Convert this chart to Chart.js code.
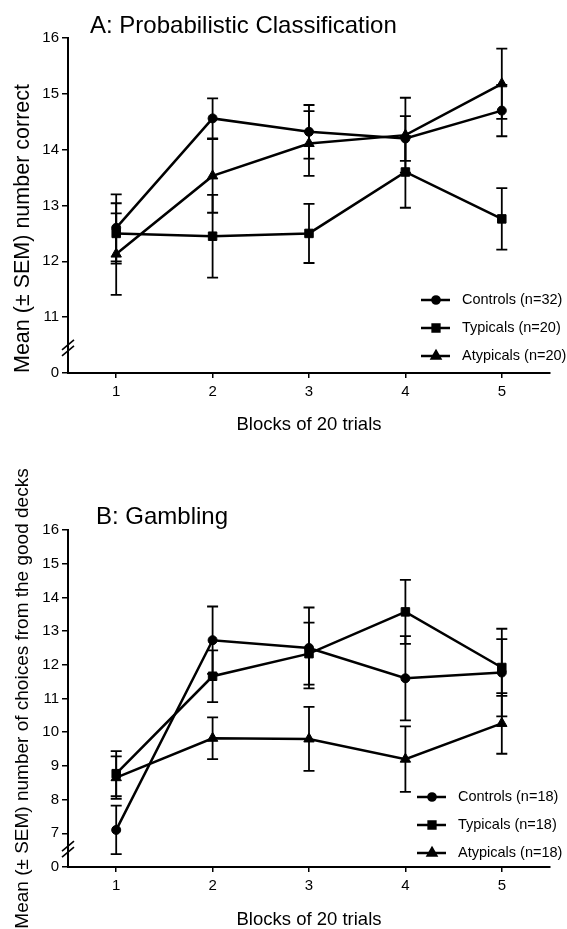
<!DOCTYPE html>
<html>
<head>
<meta charset="utf-8">
<script src="https://cdn.jsdelivr.net/npm/chart.js@4.4.1/dist/chart.umd.min.js"></script>
<style>
    html, body { margin: 0; padding: 0; background: #fff; overflow: hidden; }
    #wrap { position: relative; width: 567px; height: 929px; }
    canvas { position: absolute; left: 0; }
    #chart-a { top: 0; }
    #chart-b { top: 450px; }
</style>
</head>
<body>
<div id="wrap">
    <canvas id="chart-a" width="567" height="450"></canvas>
    <canvas id="chart-b" width="567" height="479"></canvas>
</div>
<script>
// ---------- data ----------
const blocks = [1, 2, 3, 4, 5];
const seriesNames = ["Controls", "Typicals", "Atypicals"];

// A: Probabilistic Classification
const aControls = [12.6, 14.56, 14.32, 14.2, 14.7];
const aControlsSem = [0.6, 0.36, 0.48, 0.4, 0.46];
const aTypicals = [12.5, 12.45, 12.5, 13.6, 12.76];
const aTypicalsSem = [0.54, 0.74, 0.53, 0.64, 0.55];
const aAtypicals = [12.13, 13.53, 14.11, 14.26, 15.18];
const aAtypicalsSem = [0.73, 0.66, 0.58, 0.67, 0.63];
const aN = [32, 20, 20];
const aYTicks = [11, 12, 13, 14, 15, 16];
const aYBase = 10; // shown as "0" below the axis break

// B: Gambling
const bControls = [7.1, 12.73, 12.5, 11.6, 11.77];
const bControlsSem = [0.72, 1.0, 1.2, 1.25, 1.3];
const bTypicals = [8.77, 11.66, 12.33, 13.57, 11.92];
const bTypicalsSem = [0.67, 0.77, 0.92, 0.95, 0.84];
const bAtypicals = [8.65, 9.82, 9.8, 9.2, 10.26];
const bAtypicalsSem = [0.63, 0.62, 0.95, 0.97, 0.9];
const bN = [18, 18, 18];
const bYTicks = [7, 8, 9, 10, 11, 12, 13, 14, 15, 16];
const bYBase = 6;

const FONT = "'Liberation Sans', Arial, Helvetica, sans-serif";
const BLACK = "#000";

const markers = [
    { style: "circle", radius: 4.5 },
    { style: "rect", radius: 6 },
    { style: "triangle", radius: 6 },
];

function makeDatasets(values, sems, ns) {
    return values.map((vals, i) => ({
        label: `${seriesNames[i]} (n=${ns[i]})`,
        data: blocks.map((b, j) => ({ x: b, y: vals[j] })),
        sem: sems[i],
        borderColor: BLACK,
        backgroundColor: BLACK,
        borderWidth: 2.5,
        pointStyle: markers[i].style,
        pointRadius: markers[i].radius,
        pointBorderWidth: 1,
        tension: 0,
        clip: false,
    }));
}

// error bars (mean +/- SEM) with caps
const errorBars = {
    id: "errorBars",
    beforeDatasetsDraw(chart) {
        const { ctx, scales: { x, y } } = chart;
        ctx.save();
        ctx.strokeStyle = BLACK;
        ctx.lineWidth = 1.8;
        chart.data.datasets.forEach(ds => {
            ds.data.forEach((p, j) => {
                const s = ds.sem[j];
                const px = x.getPixelForValue(p.x);
                const top = y.getPixelForValue(p.y + s);
                const bot = y.getPixelForValue(p.y - s);
                ctx.beginPath();
                ctx.moveTo(px, top);
                ctx.lineTo(px, bot);
                ctx.moveTo(px - 5.5, top);
                ctx.lineTo(px + 5.5, top);
                ctx.moveTo(px - 5.5, bot);
                ctx.lineTo(px + 5.5, bot);
                ctx.stroke();
            });
        });
        ctx.restore();
    }
};

// the // marks on the y axis between "0" and the first real tick
const axisBreak = {
    id: "axisBreak",
    afterDraw(chart, args, opts) {
        const { ctx, scales: { y }, chartArea } = chart;
        const yb = y.getPixelForValue(opts.at);
        const xa = chartArea.left;
        ctx.save();
        ctx.strokeStyle = BLACK;
        ctx.lineWidth = 1.6;
        [-3, 3].forEach(d => {
            ctx.beginPath();
            ctx.moveTo(xa - 6, yb + d + 5);
            ctx.lineTo(xa + 6, yb + d - 5);
            ctx.stroke();
        });
        ctx.restore();
    }
};

const panelTitle = {
    id: "panelTitle",
    afterDraw(chart, args, opts) {
        const { ctx } = chart;
        ctx.save();
        ctx.font = `24px ${FONT}`;
        ctx.fillStyle = BLACK;
        ctx.textBaseline = "middle";
        ctx.textAlign = "left";
        ctx.fillText(opts.text, opts.x, opts.y);
        ctx.restore();
    }
};

const cornerLegend = {
    id: "cornerLegend",
    afterDraw(chart, args, opts) {
        const { ctx } = chart;
        ctx.save();
        chart.data.datasets.forEach((ds, i) => {
            const yy = opts.y + i * opts.step;
            ctx.strokeStyle = BLACK;
            ctx.lineWidth = 2.5;
            ctx.beginPath();
            ctx.moveTo(opts.x, yy);
            ctx.lineTo(opts.x + 29, yy);
            ctx.stroke();
            ctx.fillStyle = BLACK;
            Chart.helpers.drawPoint(ctx, {
                pointStyle: ds.pointStyle,
                radius: ds.pointRadius * 0.8,
                rotation: 0,
                borderWidth: 1
            }, opts.x + 15, yy);
            ctx.fill();
            ctx.font = `14.5px ${FONT}`;
            ctx.textBaseline = "middle";
            ctx.textAlign = "left";
            ctx.fillText(ds.label, opts.x + 41, yy);
        });
        ctx.restore();
    }
};

function makeChart(canvasId, datasets, cfg) {
    const ctx = document.getElementById(canvasId);
    return new Chart(ctx, {
        type: "line",
        data: { datasets: datasets },
        options: {
            responsive: false,
            animation: false,
            layout: { padding: { top: cfg.top, right: 17, left: 0, bottom: 0 } },
            plugins: {
                legend: { display: false },
                tooltip: { enabled: false },
                errorBars: {},
                axisBreak: { at: cfg.breakAt },
                panelTitle: { text: cfg.title, x: cfg.titleX, y: cfg.titleY },
                cornerLegend: { x: cfg.legendX, y: cfg.legendY, step: 28 },
            },
            scales: {
                x: {
                    type: "linear",
                    min: 0.5,
                    max: 5.5,
                    afterBuildTicks: s => { s.ticks = blocks.map(v => ({ value: v })); },
                    ticks: { color: BLACK, font: { family: FONT, size: 15 }, padding: 5 },
                    grid: { display: true, drawOnChartArea: false, drawTicks: true, tickLength: 5, color: BLACK, lineWidth: 1.5 },
                    border: { display: true, color: BLACK, width: 2 },
                    title: {
                        display: true,
                        text: "Blocks of 20 trials",
                        color: BLACK,
                        font: { family: FONT, size: 18.5 },
                        padding: { top: 0, bottom: cfg.xTitlePad },
                    },
                    afterFit: s => { s.height = cfg.xHeight; },
                },
                y: {
                    type: "linear",
                    min: cfg.base,
                    max: 16,
                    afterBuildTicks: s => { s.ticks = [cfg.base].concat(cfg.ticks).map(v => ({ value: v })); },
                    ticks: {
                        color: BLACK,
                        font: { family: FONT, size: 15 },
                        padding: 3,
                        callback: v => (v === cfg.base ? "0" : v),
                    },
                    grid: { display: true, drawOnChartArea: false, drawTicks: true, tickLength: 6, color: BLACK, lineWidth: 1.5 },
                    border: { display: true, color: BLACK, width: 2 },
                    title: {
                        display: true,
                        text: cfg.yTitle,
                        color: BLACK,
                        align: cfg.yTitleAlign,
                        font: { family: FONT, size: cfg.yTitleSize },
                        padding: { top: 23 - cfg.yTitleSize * 0.6, bottom: 0 },
                    },
                    afterFit: s => { s.width = 68; },
                },
            },
        },
        plugins: [errorBars, axisBreak, panelTitle, cornerLegend],
    });
}

makeChart("chart-a", makeDatasets([aControls, aTypicals, aAtypicals], [aControlsSem, aTypicalsSem, aAtypicalsSem], aN), {
    top: 38,
    base: aYBase,
    breakAt: aYBase + 0.45,
    ticks: aYTicks,
    xHeight: 77,
    xTitlePad: 14,
    title: "A: Probabilistic Classification",
    titleX: 90,
    titleY: 26,
    legendX: 421,
    legendY: 300,
    yTitle: "Mean (\u00B1 SEM) number correct",
    yTitleSize: 21.5,
    yTitleAlign: "start",
});

makeChart("chart-b", makeDatasets([bControls, bTypicals, bAtypicals], [bControlsSem, bTypicalsSem, bAtypicalsSem], bN), {
    top: 80,
    base: bYBase,
    breakAt: bYBase + 0.53,
    ticks: bYTicks,
    xHeight: 62,
    xTitlePad: -2,
    title: "B: Gambling",
    titleX: 96,
    titleY: 67,
    legendX: 417,
    legendY: 347,
    yTitle: "Mean (\u00B1 SEM) number of choices from the good decks",
    yTitleSize: 19,
    yTitleAlign: "center",
});
</script>
</body>
</html>
